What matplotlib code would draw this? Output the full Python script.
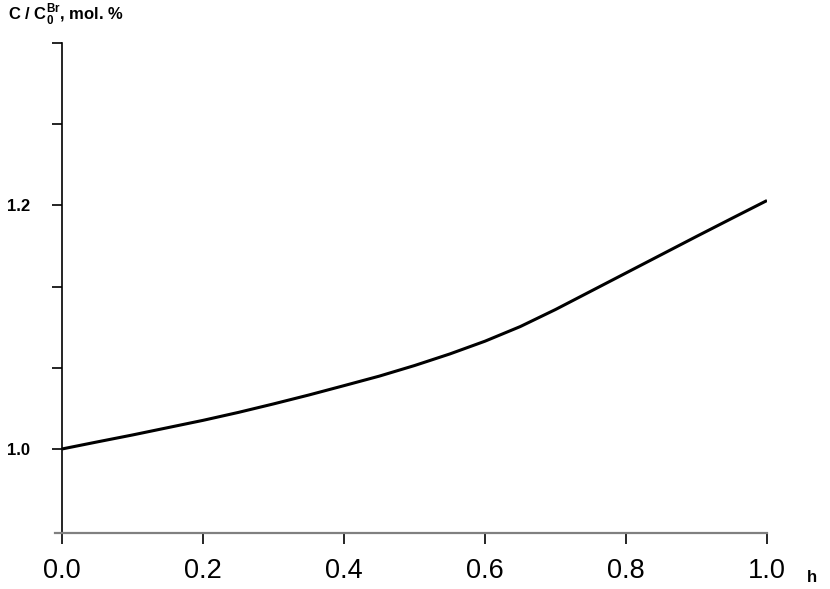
import numpy as np
import matplotlib
matplotlib.use('Agg')
import matplotlib.pyplot as plt

plt.rcParams['font.family'] = ['Liberation Sans', 'DejaVu Sans']
plt.rcParams['mathtext.fontset'] = 'custom'
plt.rcParams['mathtext.rm'] = 'Liberation Sans'
plt.rcParams['mathtext.bf'] = 'Liberation Sans:bold'

### Curve
h = [0.00, 0.05, 0.10, 0.15, 0.20, 0.25, 0.30, 0.35, 0.40, 0.45, 0.50,
     0.55, 0.60, 0.65, 0.70, 0.75, 0.80, 0.85, 0.90, 0.95, 1.00]
conc = [1.000, 1.0058, 1.0115, 1.0175, 1.0235, 1.030, 1.037, 1.0443, 1.052, 1.0598, 1.0685,
        1.078, 1.0885, 1.1005, 1.1145, 1.1295, 1.1445, 1.1595, 1.1745, 1.1893, 1.204]

xticks = [0.0, 0.2, 0.4, 0.6, 0.8, 1.0]
xticklabels = ['0.0', '0.2', '0.4', '0.6', '0.8', '1.0']
yticks = [1.0 + k * 0.2 / 3 for k in range(6)]
yticklabels = ['1.0', '', '', '1.2', '', '']

fig = plt.figure(figsize=(8.3, 5.89), dpi=100)
ax = fig.add_axes([55 / 830, 1 - 533 / 589, (767 - 55) / 830, (533 - 43) / 589])

ax.plot(h, conc, color='black', lw=2.2, solid_capstyle='butt', solid_joinstyle='round')

ax.set_xlim(-0.01, 1.0)
ax.set_ylim(0.931, 1.333)

for s in ['top', 'right']:
    ax.spines[s].set_visible(False)
ax.spines['left'].set_position(('data', 0))
ax.spines['left'].set_color('black')
ax.spines['left'].set_linewidth(1.2)
ax.spines['bottom'].set_color('#808080')
ax.spines['bottom'].set_linewidth(1.6)

ax.set_xticks(xticks)
ax.set_xticklabels(xticklabels, fontsize=19.5)
ax.set_yticks(yticks)
ax.set_yticklabels(yticklabels, fontsize=12, fontweight='bold')
ax.tick_params(axis='x', direction='out', length=8, width=1.2, pad=10)
ax.tick_params(axis='y', direction='out', length=7, width=1.2, pad=16)

# grey/black tick marks like the original
xtick_cols = ['black', 'black', '#808080', 'black', '#808080', 'black']
for t, c in zip(ax.xaxis.get_major_ticks(), xtick_cols):
    t.tick1line.set_color(c)
ytick_cols = ['black', 'black', '#808080', 'black', '#808080', '#808080']
for t, c in zip(ax.yaxis.get_major_ticks(), ytick_cols):
    t.tick1line.set_color(c)

fig.text(8 / 830, 1 - 14 / 589, r'C / C$_\mathbf{0}^\mathbf{Br}$, mol. %',
         fontsize=12, fontweight='bold', va='center', ha='left')
fig.text(812 / 830, 1 - 578 / 589, 'h', fontsize=12, fontweight='bold',
         va='center', ha='center')

fig.savefig('out.png', dpi=100)
